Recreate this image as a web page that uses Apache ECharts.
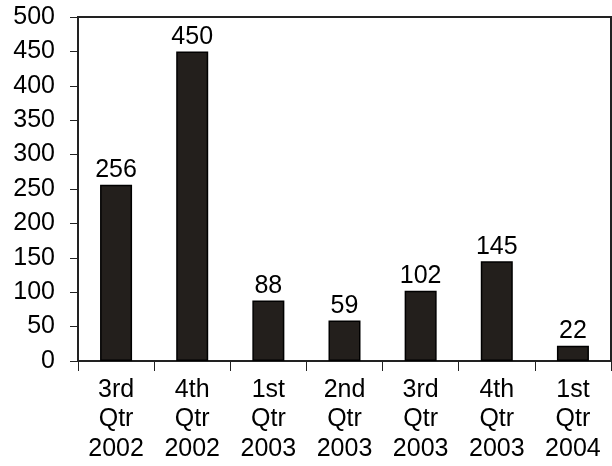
<!DOCTYPE html>
<html>
<head>
<meta charset="utf-8">
<script src="https://cdn.jsdelivr.net/npm/echarts@6/dist/echarts.min.js"></script>
<style>html,body{margin:0;padding:0;background:#fff}#c{width:612px;height:466px}</style>
</head>
<body>
<div id="c"></div>
<script>
var categories = ['3rd\nQtr\n2002','4th\nQtr\n2002','1st\nQtr\n2003','2nd\nQtr\n2003','3rd\nQtr\n2003','4th\nQtr\n2003','1st\nQtr\n2004'];
var values = [256, 450, 88, 59, 102, 145, 22];
var yTicks = [0, 50, 100, 150, 200, 250, 300, 350, 400, 450, 500];

var chart = echarts.init(document.getElementById('c'), null, {renderer:'canvas'});
var font = 'Liberation Sans, Arial, sans-serif';
chart.setOption({
  animation: false,
  grid: {left: 78, top: 17, right: 1, bottom: 105, show: true, borderColor: '#222', borderWidth: 2, backgroundColor: 'transparent'},
  xAxis: {
    type: 'category',
    data: categories,
    boundaryGap: true,
    axisLine: {lineStyle: {color: '#222', width: 2}},
    axisTick: {show: true, length: 10, inside: false, lineStyle: {color: '#222', width: 1}},
    axisLabel: {color: '#000', fontSize: 25, fontFamily: font, lineHeight: 29.5, margin: 14, interval: 0}
  },
  yAxis: {
    type: 'value',
    min: yTicks[0], max: yTicks[yTicks.length-1], interval: 50,
    splitLine: {show: false},
    axisLine: {show: true, lineStyle: {color: '#222', width: 2}},
    axisTick: {show: true, length: 8, lineStyle: {color: '#222', width: 1}},
    axisLabel: {color: '#000', fontSize: 25, fontFamily: font, margin: 23}
  },
  series: [{
    type: 'bar',
    data: values,
    barWidth: 32,
    itemStyle: {color: '#231f1c', borderColor: '#000', borderWidth: 1.5},
    label: {show: true, position: 'top', distance: 2, color: '#000', fontSize: 25, fontFamily: font}
  }]
});
</script>
</body>
</html>
